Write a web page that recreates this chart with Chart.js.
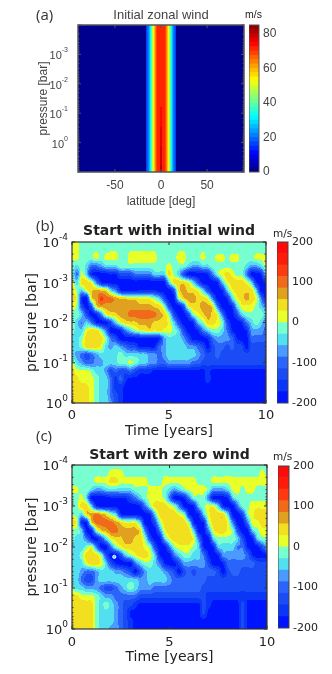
<!DOCTYPE html>
<html>
<head>
<meta charset="utf-8">
<title>Zonal wind</title>
<style>
  body { margin: 0; background: #fff; }
  canvas { position: absolute; }
  .tag { position: absolute; white-space: nowrap; color: #333; }
  .panel { font: 15px "Open Sans", sans-serif; }
  .unit { font: 10.5px "DejaVu Sans", sans-serif; color: #222; }
</style>
<script src="https://cdn.jsdelivr.net/npm/chart.js@4"></script>
</head>
<body>
<canvas id="plotA" width="332" height="212" style="left:0;top:0"></canvas>
<canvas id="barA" width="83" height="212" style="left:249px;top:0"></canvas>
<canvas id="plotB" width="332" height="235" style="left:0;top:205px"></canvas>
<canvas id="barB" width="55" height="235" style="left:277px;top:205px"></canvas>
<canvas id="plotC" width="332" height="234" style="left:0;top:440px"></canvas>
<canvas id="barC" width="54" height="234" style="left:278px;top:440px"></canvas>
<div class="tag panel" style="left:36px;top:4px">(a)</div>
<div class="tag panel" style="left:36px;top:215px">(b)</div>
<div class="tag panel" style="left:36px;top:425px">(c)</div>
<div class="tag unit" style="left:245px;top:8px;font-family:'Liberation Sans'">m/s</div>
<div class="tag unit" style="left:273px;top:227px">m/s</div>
<div class="tag unit" style="left:273px;top:450px">m/s</div>
<script>
// --- panel (a): initial jet, m/s, rows are log10(pressure)
const latitudes = [-90, -16.5, -16.3, -12.7, -11, -8.4, -4.2, -1.6, 0, 1.6, 4.2, 8.4, 11, 12.7, 16.3, 16.5, 90]
const logPressureA = [-4, -1.35, 1]
const initialWind = [
  [0, 0, 16, 24, 34, 52, 72, 72, 72, 72, 72, 52, 34, 24, 16, 0, 0],
  [0, 0, 16, 24, 34, 52, 72, 72, 72, 72, 72, 52, 34, 24, 16, 0, 0],
  [0, 0, 16, 24, 34, 52, 72, 72, 85, 72, 72, 52, 34, 24, 16, 0, 0],
]

// --- panels (b) and (c): time in years every 0.25, log10(pressure) every 0.2
const years = [0,0.25,0.5,0.75,1,1.25,1.5,1.75,2,2.25,2.5,2.75,3,3.25,3.5,3.75,4,4.25,4.5,4.75,5,5.25,5.5,5.75,6,6.25,6.5,6.75,7,7.25,7.5,7.75,8,8.25,8.5,8.75,9,9.25,9.5,9.75,10]
const logPressure = [-4,-3.8,-3.6,-3.4,-3.2,-3,-2.8,-2.6,-2.4,-2.2,-2,-1.8,-1.6,-1.4,-1.2,-1,-0.8,-0.6,-0.4,-0.2,0]

const windInitialStart = [
  [10,10,-10,-10,-10,-10,-10,-10,-10,-10, -10,-10,-10,-10,-10,-10,-10,-10,-10,-10, -10,-10,-10,-10,-10,-10,-10,-10,-10,-10, -10,-10,-10,-10,-10,-10,-10,-10,-10,-10, -10],
  [10,10,-10,-10,-10,-2,-10,-10,-2,-2, -10,-10,-2,-2,-2,-2,-2,-2,-10,-10, -10,-10,-2,-2,-10,-10,-10,-2,-10,-10, -10,-10,-10,-10,-10,-10,-10,-10,-10,-10, -10],
  [10,10,-10,-10,-10,10,-10,10,10,10, -10,-10,10,10,10,10,10,10,-10,-10, -10,-10,10,10,-10,-10,-10,10,-10,-10, 10,10,-5,10,10,-10,-10,-10,10,10, 10],
  [-10,-40,-10,-40,-100,-100,-70,-40,-40,-40, -10,-10,-10,-10,-10,-10,-10,-10,-10,-10, 10,-10,-10,-10,-40,-70,-70,-40,-40,-10, -10,-10,-10,-10,-10,-10,-40,-70,-70,-40, 10],
  [-10,-100,10,-45,-170,-190,-190,-190,-170,-170, -130,-130,-130,-90,-90,-90,-90,-45,-45,-45, 45,-10,-45,-130,-190,-190,-190,-190,-170,-90, -10,20,45,20,-10,-10,-90,-190,-190,-170, -45],
  [20,-45,45,45,20,-90,-170,-190,-190,-190, -190,-190,-190,-190,-190,-190,-190,-190,-190,-190, -45,45,50,45,20,-45,-130,-190,-190,-190, -170,-45,20,45,45,45,20,-45,-170,-190, -170],
  [45,-10,-45,20,50,70,50,45,-45,-90, -170,-190,-190,-190,-170,-170,-170,-170,-190,-190, -190,-130,45,70,50,45,20,-45,-130,-190, -190,-170,-45,20,45,50,50,45,-45,-190, -190],
  [45,20,-170,-190,45,70,130,100,100,70, 50,50,45,45,20,20,20,-10,-45,-130, -190,-190,-10,50,70,70,50,45,20,-90, -190,-190,-170,-45,20,45,70,45,20,-90, -190],
  [20,-10,-130,-190,-130,45,70,70,70,70, 70,70,70,70,70,70,70,50,45,-10, -130,-190,-190,-130,20,45,50,70,70,45, -90,-190,-190,-170,-45,20,20,20,-10,-45, -90],
  [-10,-10,-45,-130,-190,-170,-90,20,45,50, 70,70,100,100,100,100,100,100,70,50, -10,-130,-190,-190,-130,-10,20,50,70,50, 20,-90,-190,-190,-130,-45,-10,-10,-10,-10, -45],
  [-10,-45,-90,-45,-90,-170,-190,-190,-130,-45, 20,45,50,50,70,70,70,50,50,45, 20,-45,-130,-190,-190,-170,-45,-10,45,45, 20,-10,-130,-190,-190,-170,-90,-45,-10,-45, -90],
  [-10,-45,-45,20,45,45,-10,-90,-190,-190, -170,-90,-45,-10,20,20,45,20,45,20, 20,-10,-45,-130,-190,-190,-170,-90,-45,-10, -10,-45,-90,-170,-190,-190,-170,-70,-70,-70, -100],
  [-40,-40,-10,45,50,50,45,-10,-90,-130, -190,-190,-190,-190,-190,-190,-190,-190,-170,-70, -40,-40,-40,-70,-130,-190,-190,-190,-170,-100, -70,-70,-70,-100,-170,-190,-190,-100,-100,-100, -100],
  [-40,-40,-10,45,45,45,20,-40,-70,-40, -70,-100,-130,-130,-180,-180,-180,-180,-100,-70, -40,-40,-40,-40,-70,-70,-100,-130,-190,-130, -100,-100,-130,-100,-130,-130,-190,-130,-130,-130, -130],
  [-40,-70,-100,-130,-100,-70,-40,-40,-40,-40, -10,-40,-40,-40,-40,-40,-70,-70,-100,-70, -40,-40,-40,-40,-40,-40,-70,-100,-130,-130, -100,-130,-130,-130,-130,-130,-130,-130,-130,-130, -130],
  [10,-40,-70,-100,-100,-70,-70,-40,-40,-40, -10,-10,10,-10,-40,-40,-70,-70,-100,-100, -70,-70,-70,-70,-70,-100,-100,-130,-130,-130, -130,-130,-130,-130,-130,-130,-130,-130,-130,-130, -130],
  [40,10,10,10,-10,-40,-40,-70,-130,-100, -130,-130,-100,-130,-160,-160,-160,-180,-180,-180, -180,-180,-180,-180,-180,-180,-180,-180,-160,-180, -180,-180,-180,-180,-180,-180,-180,-180,-180,-180, -180],
  [40,40,10,10,10,-10,-40,-40,-100,-160, -100,-160,-180,-180,-180,-180,-180,-180,-180,-180, -180,-180,-180,-180,-180,-180,-180,-180,-160,-180, -180,-180,-180,-180,-180,-180,-180,-180,-180,-180, -180],
  [40,40,50,40,10,-10,-40,-40,-100,-160, -160,-180,-180,-180,-180,-180,-180,-180,-180,-180, -180,-180,-180,-180,-180,-180,-180,-180,-180,-180, -180,-180,-180,-180,-180,-180,-180,-180,-180,-180, -180],
  [40,50,50,50,10,-10,-40,-40,-100,-130, -160,-180,-180,-180,-180,-180,-180,-180,-180,-180, -180,-180,-180,-180,-180,-180,-180,-180,-180,-180, -180,-180,-180,-180,-180,-180,-180,-180,-180,-180, -180],
  [40,50,50,50,10,-10,-40,-40,-70,-130, -160,-180,-180,-180,-180,-180,-180,-180,-180,-180, -180,-180,-180,-180,-180,-180,-180,-180,-180,-180, -180,-180,-180,-180,-180,-180,-180,-180,-180,-180, -180],
]

const windZeroStart = [
  [-10,-10,-10,-10,-10,-10,-10,-10,-10,-10, -10,-10,-10,-10,-10,-10,-10,-10,-10,-10, -10,-10,-10,-10,-10,-10,-10,-10,-10,-10, -10,-10,-10,-10,-10,-10,-10,-10,-10,-10, -10],
  [-10,-10,-10,-10,-10,-10,-10,-10,10,10, 10,-10,-10,-10,-10,-10,-10,-10,-10,-5, -10,-10,-10,-10,-10,-10,-10,-10,-10,-10, -10,-10,-5,-10,-10,-10,-10,-10,-10,10, -10],
  [-10,-10,-10,-10,-10,10,10,10,40,40, 10,10,10,10,10,10,-10,-10,-10,10, 10,10,10,10,10,10,-10,-10,-10,10, 10,10,10,10,10,10,10,10,10,10, 10],
  [5,5,-10,-10,-40,-70,-70,-40,-40,-40, -40,-40,-40,-10,-10,-10,10,10,10,-10, -40,-70,-40,-10,10,10,10,10,-10,-70, -70,-70,-40,10,10,-10,10,10,-10,-10, -10],
  [-10,-10,10,-45,-190,-190,-190,-190,-170,-170, -170,-170,-130,-90,-45,-10,10,10,10,-10, -90,-190,-190,-170,-90,-10,-10,-10,-90,-190, -190,-190,-170,-45,-10,-10,-10,-10,-10,-10, -10],
  [-10,-10,45,45,-45,-170,-190,-190,-190,-190, -190,-190,-190,-190,-170,-90,-10,45,50,45, 20,-10,-90,-190,-190,-170,-45,-10,20,20, -45,-170,-190,-190,-90,-10,-10,20,20,20, 20],
  [-10,-10,-45,50,70,100,70,45,-10,-45, -170,-190,-190,-190,-190,-190,-170,-45,45,45, 45,45,20,-10,-170,-190,-170,-45,20,50, 50,45,-45,-190,-190,-130,-10,20,45,45, 45],
  [45,20,-170,-170,45,100,100,100,100,70, 45,20,20,20,-45,-190,-190,-130,-10,45, 45,45,45,45,-10,-170,-190,-170,-10,45, 50,50,20,-90,-190,-190,-90,20,20,45, 45],
  [-10,-10,-45,-190,-170,-10,50,70,100,100, 70,70,70,70,45,-90,-190,-190,-90,20, 45,45,50,50,45,-45,-190,-190,-90,20, 45,50,20,-10,-130,-190,-190,-45,-10,20, 20],
  [-10,-45,-45,-90,-170,-190,-130,-45,20,45, 50,70,70,50,45,-10,-130,-190,-190,-45, 20,45,50,50,45,20,-90,-190,-190,-45, -10,-10,-10,-10,-45,-130,-190,-190,-45,-10, -10],
  [-45,-45,-45,-10,20,-90,-190,-190,-90,-10, 20,45,45,45,45,20,-10,-130,-190,-190, -90,-10,20,20,20,-10,-45,-170,-190,-170, -45,-45,-45,-45,-90,-90,-170,-190,-190,-130, -45],
  [-45,-45,-10,45,50,45,-10,-130,-190,-190, -130,-45,-10,20,45,45,20,-45,-170,-190, -190,-90,-45,-10,-10,-45,-45,-90,-170,-190, -170,-70,-70,-70,-70,-70,-100,-170,-190,-190, -190],
  [-40,-40,-40,20,45,45,20,-45,-130,-170, -190,-190,-190,-90,-45,-10,-10,-45,-90,-170, -190,-190,-130,-70,-70,-70,-70,-70,-130,-190, -190,-170,-100,-100,-100,-100,-100,-100,-130,-130, -130],
  [-40,-40,-70,-100,-100,-70,-40,-40,-40,-70, -70,-100,-130,-190,-130,-70,-40,-40,-40,-70, -100,-130,-190,-130,-100,-130,-100,-100,-100,-100, -130,-190,-130,-100,-100,-130,-130,-130,-130,-130, -130],
  [-40,-40,-100,-130,-130,-70,-40,-40,-40,-40, -40,-40,-40,-40,-70,-70,-40,-40,-40,-40, -70,-100,-100,-100,-100,-100,-100,-100,-130,-130, -130,-130,-130,-130,-130,-130,-130,-130,-130,-130, -130],
  [-10,-40,-40,-70,-70,-70,-100,-130,-130,-100, -70,-40,-10,-40,-70,-70,-70,-100,-100,-100, -100,-100,-100,-100,-100,-100,-100,-130,-130,-130, -130,-130,-130,-130,-130,-130,-130,-130,-130,-130, -130],
  [40,40,10,10,10,-10,-40,-70,-70,-100, -100,-100,-100,-100,-130,-130,-130,-130,-130,-130, -130,-130,-130,-130,-130,-130,-130,-130,-160,-160, -160,-160,-160,-160,-160,-160,-160,-160,-160,-160, -160],
  [40,40,50,40,40,-10,-40,-10,-40,-70, -100,-130,-130,-160,-180,-180,-180,-180,-180,-180, -180,-180,-180,-180,-180,-180,-180,-130,-160,-180, -180,-180,-180,-180,-180,-130,-180,-180,-180,-180, -180],
  [40,50,50,50,40,-10,-40,-40,-40,-70, -100,-130,-180,-180,-180,-180,-180,-180,-180,-180, -180,-180,-180,-180,-180,-180,-180,-130,-180,-180, -180,-180,-180,-180,-180,-130,-180,-180,-180,-180, -180],
  [40,50,50,50,40,-10,-40,-40,-40,-70, -100,-130,-160,-180,-180,-180,-180,-180,-180,-180, -180,-180,-180,-180,-180,-180,-180,-180,-180,-180, -180,-180,-180,-180,-180,-130,-180,-180,-180,-180, -180],
  [40,50,50,40,40,-10,-40,-40,-70,-70, -100,-130,-160,-180,-180,-180,-180,-180,-180,-180, -180,-180,-180,-180,-180,-180,-180,-180,-180,-180, -180,-180,-180,-180,-180,-130,-180,-180,-180,-180, -180],
]
// small white ring in (c): [years, pressure in bar]
const zeroStartRing = [{ x: 2.17, y: 0.0174 }]

// contour colours of (b) and (c), bottom to top of the colour bar
const windColors = ["#0014ff", "#0a36f8", "#1a4cf5", "#2a64fa", "#4a9aff", "#52e0f0", "#78ffd0",
  "#e8ff2a", "#f2e020", "#e0a020", "#f06a1a", "#ff3a10", "#ff1a0a", "#ff0a0a"]
const windTicks = [-200, -100, 0, 100, 200]
const jetMax = 85
const jetBins = 34
const jetTicks = [0, 20, 40, 60, 80]
const latTicks = [-50, 0, 50]
const yearTicks = [0, 5, 10]

const hexToRgb = (h) => [parseInt(h.slice(1, 3), 16), parseInt(h.slice(3, 5), 16), parseInt(h.slice(5, 7), 16)]
const windRgb = windColors.map(hexToRgb)
const windColor = (v) => {
  const i = Math.floor(((v + 200) / 400) * windColors.length)
  return windRgb[Math.max(0, Math.min(windColors.length - 1, i))]
}

// jet colormap, stepped like a contourf
const jet = (t) => {
  const c = (x) => Math.round(255 * Math.max(0, Math.min(1, 1.5 - Math.abs(4 * t - x))))
  return [c(3), c(2), c(1)]
}
const jetColor = (v) => {
  const i = Math.min(jetBins - 1, Math.floor((v / jetMax) * jetBins))
  return jet((i + 0.5) / jetBins)
}

const findCell = (arr, v) => {
  let i = 0
  while (i < arr.length - 2 && v > arr[i + 1]) i++
  return i
}

const lerp = (a, b, t) => a + (b - a) * t
const catmull = (a, b, c, d, t) => b + 0.5 * t * (c - a + t * (2 * a - 5 * b + 4 * c - d + t * (3 * (b - c) + d - a)))

// grid lookup, half bilinear half cubic when the grid is fine enough (rounder contours)
const sampleGrid = (rows, i, j, fx, fy, cubic) => {
  const lin = lerp(lerp(rows[j][i], rows[j][i + 1], fx), lerp(rows[j + 1][i], rows[j + 1][i + 1], fx), fy)
  if (!cubic) return lin
  const rowAt = (n) => {
    const r = rows[Math.max(0, Math.min(rows.length - 1, n))]
    const at = (m) => r[Math.max(0, Math.min(r.length - 1, m))]
    return catmull(at(i - 1), at(i), at(i + 1), at(i + 2), fx)
  }
  return 0.5 * lin + 0.5 * catmull(rowAt(j - 1), rowAt(j), rowAt(j + 1), rowAt(j + 2), fy)
}

// fills the plot area from the grid, each pixel looked up through the chart scales
const fieldPlugin = (xs, ys, rows, colorOf, cubic) => ({
  id: "field",
  afterLayout(chart) {
    // title centred over the plot, not over the whole canvas
    chart.titleBlock.left = chart.chartArea.left
    chart.titleBlock.right = chart.chartArea.right
  },
  beforeDatasetsDraw(chart) {
    const { ctx, chartArea, scales } = chart
    const left = Math.round(chartArea.left)
    const top = Math.round(chartArea.top)
    const w = Math.round(chartArea.right) - left
    const h = Math.round(chartArea.bottom) - top
    const off = document.createElement("canvas")
    off.width = w
    off.height = h
    const offCtx = off.getContext("2d")
    const img = offCtx.createImageData(w, h)
    for (let py = 0; py < h; py++) {
      const yv = Math.log10(scales.y.getValueForPixel(top + py + 0.5))
      const j = findCell(ys, yv)
      const fy = Math.max(0, Math.min(1, (yv - ys[j]) / (ys[j + 1] - ys[j])))
      for (let px = 0; px < w; px++) {
        const xv = scales.x.getValueForPixel(left + px + 0.5)
        const i = findCell(xs, xv)
        const fx = Math.max(0, Math.min(1, (xv - xs[i]) / (xs[i + 1] - xs[i])))
        const c = colorOf(sampleGrid(rows, i, j, fx, fy, cubic))
        const k = (py * w + px) * 4
        img.data[k] = c[0]
        img.data[k + 1] = c[1]
        img.data[k + 2] = c[2]
        img.data[k + 3] = 255
      }
    }
    offCtx.putImageData(img, 0, 0)
    ctx.save()
    ctx.beginPath()
    ctx.rect(left, top, w, h)
    ctx.clip()
    ctx.drawImage(off, left, top)
    ctx.filter = "blur(0.6px)"
    ctx.drawImage(off, left, top)
    ctx.restore()
  },
})

// matlab style box with ticks pointing inwards
const framePlugin = (color, lineWidth, tickLen) => ({
  id: "frame",
  afterDatasetsDraw(chart) {
    const { ctx, chartArea: a, scales } = chart
    ctx.save()
    ctx.strokeStyle = color
    ctx.lineWidth = 1
    ctx.beginPath()
    if (scales.x && scales.x.options.display) {
      scales.x.ticks.forEach((t) => {
        const x = scales.x.getPixelForValue(t.value)
        ctx.moveTo(x, a.bottom)
        ctx.lineTo(x, a.bottom - tickLen)
        ctx.moveTo(x, a.top)
        ctx.lineTo(x, a.top + tickLen)
      })
      scales.y.ticks.forEach((t) => {
        const e = Math.log10(t.value)
        const len = Math.abs(e - Math.round(e)) < 1e-6 ? tickLen : tickLen / 2
        const y = scales.y.getPixelForValue(t.value)
        ctx.moveTo(a.left, y)
        ctx.lineTo(a.left + len, y)
        ctx.moveTo(a.right, y)
        ctx.lineTo(a.right - len, y)
      })
    }
    ctx.stroke()
    ctx.lineWidth = lineWidth
    ctx.strokeRect(a.left, a.top, a.right - a.left, a.bottom - a.top)
    ctx.restore()
  },
})

// Chart.js can't do a raised exponent in a tick, so powers of ten are written here
const powerLabelPlugin = (o) => ({
  id: "powerLabels",
  afterDraw(chart) {
    const { ctx, chartArea: a, scales } = chart
    ctx.save()
    ctx.fillStyle = o.textColor
    ctx.textBaseline = "middle"
    o.yShown.forEach((e) => {
      const y = scales.y.getPixelForValue(Math.pow(10, e))
      const right = a.left - o.yTickPad
      const exp = String(e)
      ctx.font = `${o.expSize}px ${o.tickFont.family}`
      const expWidth = ctx.measureText(exp).width
      ctx.textAlign = "left"
      ctx.fillText(exp, right - expWidth, y - o.expRaise)
      ctx.font = `${o.powerSize}px ${o.tickFont.family}`
      ctx.textAlign = "right"
      ctx.fillText("10", right - expWidth, y + 2)
    })
    ctx.restore()
  },
})

const drawField = (id, o) => {
  const points = []
  o.ys.forEach((ly, j) => o.xs.forEach((x, i) => points.push({ x, y: Math.pow(10, ly), v: o.rows[j][i] })))
  const datasets = [{ data: points, pointRadius: 0, pointHoverRadius: 0 }]
  if (o.ring) {
    datasets.push({ data: o.ring, pointRadius: 1.6, backgroundColor: "#52e0f0", borderColor: "#fff", borderWidth: 1 })
  }
  new Chart(document.getElementById(id), {
    type: "scatter",
    data: { datasets },
    options: {
      responsive: false,
      animation: false,
      events: [],
      layout: { autoPadding: false, padding: { right: o.padRight } },
      plugins: {
        legend: { display: false },
        tooltip: { enabled: false },
        title: {
          display: true,
          text: o.title,
          color: o.textColor,
          font: o.titleFont,
          padding: o.titlePad,
        },
      },
      scales: {
        x: {
          type: "linear",
          min: o.xMin,
          max: o.xMax,
          grid: { display: false, drawTicks: false },
          border: { display: false },
          afterBuildTicks: (s) => { s.ticks = o.xTicks.map((value) => ({ value })) },
          afterFit: (s) => { s.height = o.xHeight },
          ticks: { color: o.textColor, font: o.tickFont, padding: o.xTickPad, maxRotation: 0, autoSkip: false },
          title: { display: true, text: o.xTitle, color: o.textColor, font: o.axisFont, padding: { top: 0, bottom: o.xTitlePad } },
        },
        y: {
          type: "logarithmic",
          reverse: true,
          min: o.yMin,
          max: o.yMax,
          grid: { display: false, drawTicks: false },
          border: { display: false },
          afterFit: (s) => { s.width = o.yWidth },
          ticks: { color: o.textColor, font: o.tickFont, autoSkip: false, maxRotation: 0, callback: () => "" },
          title: { display: true, text: "pressure [bar]", color: o.textColor, font: o.axisFont, padding: { top: o.yTitlePad, bottom: 0 } },
        },
      },
    },
    plugins: [fieldPlugin(o.xs, o.ys, o.rows, o.colorOf, o.cubic), framePlugin(o.frameColor, o.frameWidth, 3), powerLabelPlugin(o)],
  })
}

const drawColorbar = (id, o) => {
  new Chart(document.getElementById(id), {
    type: "bar",
    data: {
      labels: [""],
      datasets: o.levels.map((l) => ({
        data: [[l.lo, l.hi]],
        backgroundColor: l.color,
        barPercentage: 1,
        categoryPercentage: 1,
        grouped: false,
      })),
    },
    options: {
      responsive: false,
      animation: false,
      events: [],
      layout: { autoPadding: false, padding: { top: o.top, bottom: o.bottom } },
      plugins: { legend: { display: false }, tooltip: { enabled: false } },
      scales: {
        x: { display: false },
        y: {
          position: "right",
          min: o.min,
          max: o.max,
          grid: { display: false, drawTicks: false },
          border: { display: false },
          afterBuildTicks: (s) => { s.ticks = o.ticks.map((value) => ({ value })) },
          afterFit: (s) => { s.width = o.scaleWidth },
          ticks: { color: o.textColor, font: o.font, padding: o.pad, autoSkip: false },
        },
      },
    },
    plugins: [framePlugin(o.frameColor, 1, 0)],
  })
}

const sansA = "'Liberation Sans', 'DejaVu Sans'"
const sansB = "'DejaVu Sans'"

drawField("plotA", {
  xs: latitudes, ys: logPressureA, rows: initialWind, colorOf: jetColor, cubic: false,
  title: "Initial zonal wind", titleFont: { family: sansA, size: 13, weight: "normal" }, titlePad: { top: 7.2, bottom: 2.2 },
  textColor: "#444", tickFont: { family: sansA, size: 12 }, axisFont: { family: sansA, size: 12 },
  xMin: -90, xMax: 90, xTicks: latTicks, xTitle: "latitude [deg]", xHeight: 40, xTickPad: 6, xTitlePad: 3,
  yMin: 1e-4, yMax: 10, yShown: [-3, -2, -1, 0], yWidth: 78, yTickPad: 10, yTitlePad: 36,
  powerSize: 11, expSize: 7, expRaise: 4, padRight: 88, frameColor: "#555", frameWidth: 1.5,
})

drawField("plotB", {
  xs: years, ys: logPressure, rows: windInitialStart, colorOf: windColor, cubic: true,
  title: "Start with initial wind", titleFont: { family: sansB, size: 14, weight: "bold" }, titlePad: { top: 18.3, bottom: 1.9 },
  textColor: "#222", tickFont: { family: sansB, size: 13 }, axisFont: { family: sansB, size: 14 },
  xMin: 0, xMax: 10, xTicks: yearTicks, xTitle: "Time [years]", xHeight: 37, xTickPad: 5, xTitlePad: 0,
  yMin: 1e-4, yMax: 1, yShown: [-4, -3, -2, -1, 0], yWidth: 72, yTickPad: 4, yTitlePad: 23.6,
  powerSize: 13, expSize: 9, expRaise: 4, padRight: 66, frameColor: "#333", frameWidth: 1.2,
})

drawField("plotC", {
  xs: years, ys: logPressure, rows: windZeroStart, colorOf: windColor, cubic: true, ring: zeroStartRing,
  title: "Start with zero wind", titleFont: { family: sansB, size: 14, weight: "bold" }, titlePad: { top: 6.6, bottom: 1.6 },
  textColor: "#222", tickFont: { family: sansB, size: 13 }, axisFont: { family: sansB, size: 14 },
  xMin: 0, xMax: 10, xTicks: yearTicks, xTitle: "Time [years]", xHeight: 45, xTickPad: 6, xTitlePad: 8,
  yMin: 1e-4, yMax: 1, yShown: [-4, -3, -2, -1, 0], yWidth: 72, yTickPad: 4, yTitlePad: 23.6,
  powerSize: 13, expSize: 9, expRaise: 4, padRight: 65, frameColor: "#333", frameWidth: 1.2,
})

const jetLevels = []
for (let i = 0; i < jetBins; i++) {
  const c = jet((i + 0.5) / jetBins)
  jetLevels.push({ lo: (i / jetBins) * jetMax, hi: ((i + 1) / jetBins) * jetMax, color: `rgb(${c[0]},${c[1]},${c[2]})` })
}
const windLevels = windColors.map((color, i) => ({
  lo: -200 + (i * 400) / windColors.length,
  hi: -200 + ((i + 1) * 400) / windColors.length,
  color,
}))

drawColorbar("barA", {
  levels: jetLevels, min: 0, max: jetMax, ticks: jetTicks, top: 25, bottom: 40, scaleWidth: 73,
  font: { family: sansA, size: 12 }, pad: 4, textColor: "#444", frameColor: "#555",
})
drawColorbar("barB", {
  levels: windLevels, min: -200, max: 200, ticks: windTicks, top: 37, bottom: 37, scaleWidth: 44,
  font: { family: sansB, size: 11 }, pad: 4, textColor: "#222", frameColor: "#444",
})
drawColorbar("barC", {
  levels: windLevels, min: -200, max: 200, ticks: windTicks, top: 26, bottom: 46, scaleWidth: 43,
  font: { family: sansB, size: 11 }, pad: 4, textColor: "#222", frameColor: "#444",
})
</script>
</body>
</html>
